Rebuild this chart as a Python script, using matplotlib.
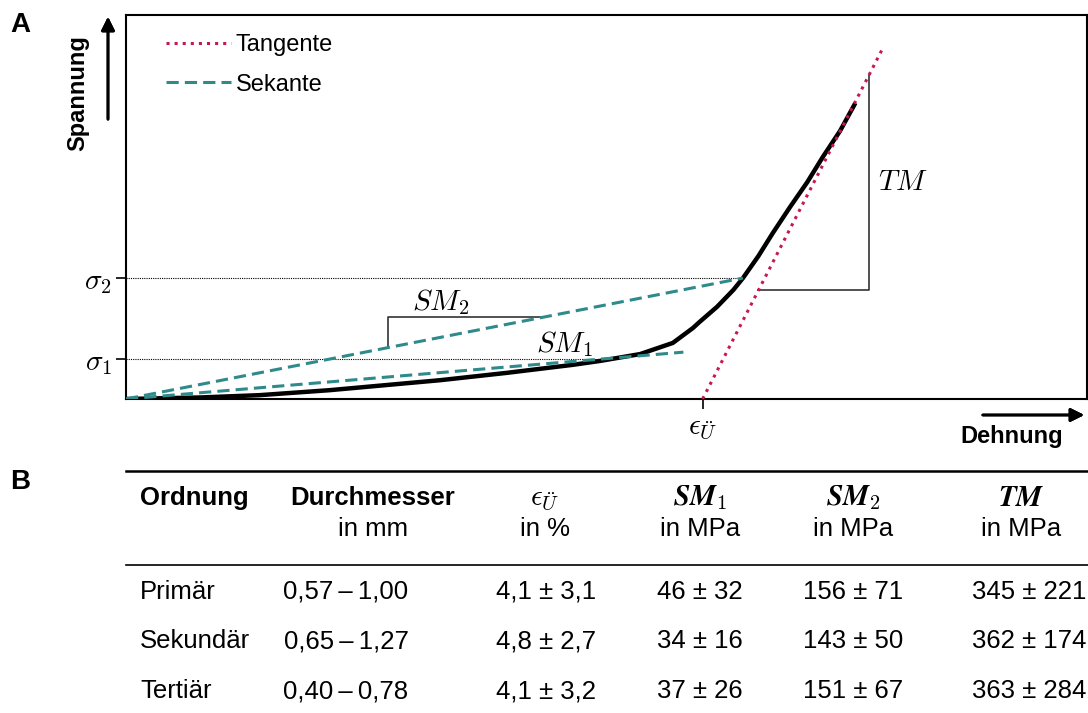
import numpy as np
import matplotlib.pyplot as plt
from matplotlib.lines import Line2D

plt.rcParams['font.family'] = ['Liberation Sans', 'DejaVu Sans']
plt.rcParams['mathtext.fontset'] = 'cm'

# stress-strain curve (arbitrary units)
dehnung = [0, 7.7, 13.9, 21.2, 32.7, 39.6, 46.5, 49.3, 53.5, 56.9, 59.0,
           59.7, 61.5, 63.2, 64.2, 65.8, 67.3, 69.1, 70.9, 72.5, 74.3, 75.9]
spannung = [0, 0.4, 1.0, 2.3, 4.9, 6.8, 8.9, 9.9, 11.7, 14.6, 18.5,
            20.1, 24.0, 28.4, 31.5, 37.2, 43.2, 50.0, 56.5, 63.0, 69.8, 77.1]

sigma1 = 10.4
sigma2 = 31.5
eps_ue = 60.0
tangent_top = (78.7, 91.1)
secant1_end = (58.0, 12.2)
secant2_end = (64.2, sigma2)

# table data
ordnung = ['Primär', 'Sekundär', 'Tertiär']
durchmesser = ['0,57\u2009–\u20091,00', '0,65\u2009–\u20091,27', '0,40\u2009–\u20090,78']
eps_vals = ['4,1 ± 3,1', '4,8 ± 2,7', '4,1 ± 3,2']
sm1_vals = ['46 ± 32', '34 ± 16', '37 ± 26']
sm2_vals = ['156 ± 71', '143 ± 50', '151 ± 67']
tm_vals = ['345 ± 221', '362 ± 174', '363 ± 284']

teal = '#2e8a8b'
crimson = '#c81653'

W, H = 1088, 713
fig = plt.figure(figsize=(W / 100, H / 100), dpi=100)

# ---- panel A ----
ax = fig.add_axes([126 / W, (H - 399) / H, (1087 - 126) / W, (399 - 15) / H])
ax.set_xlim(0, 100)
ax.set_ylim(0, 100)
for s in ax.spines.values():
    s.set_linewidth(1.5)

ax.plot(dehnung, spannung, color='black', lw=3.2, solid_capstyle='butt',
        solid_joinstyle='round', zorder=3)

slope_t = (tangent_top[1] - 0) / (tangent_top[0] - eps_ue)
ax.plot([eps_ue, tangent_top[0]], [0, tangent_top[1]], color=crimson, lw=2.2,
        ls=':', label='Tangente', zorder=4)
ax.plot([0, secant2_end[0]], [0, secant2_end[1]], color=teal, lw=2.2,
        dashes=(4, 2), label='Sekante', zorder=4)
ax.plot([0, secant1_end[0]], [0, secant1_end[1]], color=teal, lw=2.2,
        dashes=(4, 2), zorder=4)

# sigma guide lines
x_s1 = sigma1 / (secant1_end[1] / secant1_end[0])
ax.plot([0, x_s1], [sigma1, sigma1], color='black', lw=0.8, dashes=(1, 1))
ax.plot([0, secant2_end[0]], [sigma2, sigma2], color='black', lw=0.8, dashes=(1, 1))

# slope triangles
tri = dict(color='#333333', lw=1.2, zorder=2)
tm_x0, tm_x1 = 65.8, 77.3
y0 = slope_t * (tm_x0 - eps_ue)
y1 = slope_t * (tm_x1 - eps_ue)
ax.plot([tm_x0, tm_x1, tm_x1], [y0, y0, y1], **tri)
ax.text(78.3, 56.5, '$TM$', fontsize=21, va='center', ha='left')

k2 = secant2_end[1] / secant2_end[0]
sm_x0, sm_ytop = 27.3, 21.4
ax.plot([sm_x0, sm_x0, sm_ytop / k2], [k2 * sm_x0, sm_ytop, sm_ytop], **tri)
ax.text(32.7, 25.3, '$SM_2$', fontsize=21, va='center', ha='center')
ax.text(45.6, 14.3, '$SM_1$', fontsize=21, va='center', ha='center')

ax.set_yticks([sigma1, sigma2])
ax.set_yticklabels([r'$\sigma_1$', r'$\sigma_2$'], fontsize=21)
ax.set_xticks([eps_ue])
ax.set_xticklabels([r'$\epsilon_{\ddot{U}}$'], fontsize=21)
ax.tick_params(direction='out', length=7, width=1.2, pad=3)

ax.legend(loc='upper left', bbox_to_anchor=(40 / 961, 1 - 19 / 384), frameon=False,
          fontsize=17, handlelength=2.75, handletextpad=0.2, labelspacing=0.75,
          borderpad=0, borderaxespad=0)

# axis arrows and titles
fig.add_artist(plt.annotate('', xy=(108 / W, 1 - 14 / H), xytext=(108 / W, 1 - 122 / H),
               xycoords='figure fraction',
               arrowprops=dict(arrowstyle='-|>', color='black', lw=2, mutation_scale=20)))
fig.text(78 / W, 1 - 93 / H, 'Spannung', rotation=90, fontsize=17, fontweight='bold',
         ha='center', va='center')
fig.add_artist(plt.annotate('', xy=(1087 / W, 1 - 415 / H), xytext=(980 / W, 1 - 415 / H),
               xycoords='figure fraction',
               arrowprops=dict(arrowstyle='-|>', color='black', lw=2, mutation_scale=20)))
fig.text(1012 / W, 1 - 436 / H, 'Dehnung', fontsize=17, fontweight='bold',
         ha='center', va='center')

fig.text(20 / W, 1 - 25 / H, 'A', fontsize=20, fontweight='bold', ha='center', va='center')
fig.text(20 / W, 1 - 482 / H, 'B', fontsize=20, fontweight='bold', ha='center', va='center')

# ---- panel B: table ----
tb = fig.add_axes([0, 0, 1, 1])
tb.set_xlim(0, W)
tb.set_ylim(H, 0)
tb.axis('off')
tb.add_line(Line2D([126, 1088], [471, 471], color='black', lw=1.8))
tb.add_line(Line2D([126, 1088], [565, 565], color='black', lw=1.2))

fs = 18.5
head1 = ['Ordnung', 'Durchmesser', r'$\epsilon_{\ddot{U}}$',
         r'$\mathbfit{SM}_{\mathbf{1}}$', r'$\mathbfit{SM}_{\mathbf{2}}$', r'$\mathbfit{TM}$']
head2 = ['', 'in mm', 'in %', 'in MPa', 'in MPa', 'in MPa']
head_x = [140, 373, 545, 700, 853, 1021]
for i, (h1, h2, x) in enumerate(zip(head1, head2, head_x)):
    ha = 'left' if i == 0 else 'center'
    tb.text(x, 498, h1, fontsize=fs if i < 2 else 21, fontweight='bold', ha=ha, va='center')
    tb.text(x, 529, h2, fontsize=fs, ha=ha, va='center')

cols = [ordnung, durchmesser, eps_vals, sm1_vals, sm2_vals, tm_vals]
col_x = [140, 346, 546, 700, 853, 1029]
row_y = [592, 641, 691]
for j, (col, x) in enumerate(zip(cols, col_x)):
    ha = 'left' if j == 0 else 'center'
    for val, y in zip(col, row_y):
        tb.text(x, y, val, fontsize=fs, ha=ha, va='center')

fig.savefig('out.png', dpi=100)
